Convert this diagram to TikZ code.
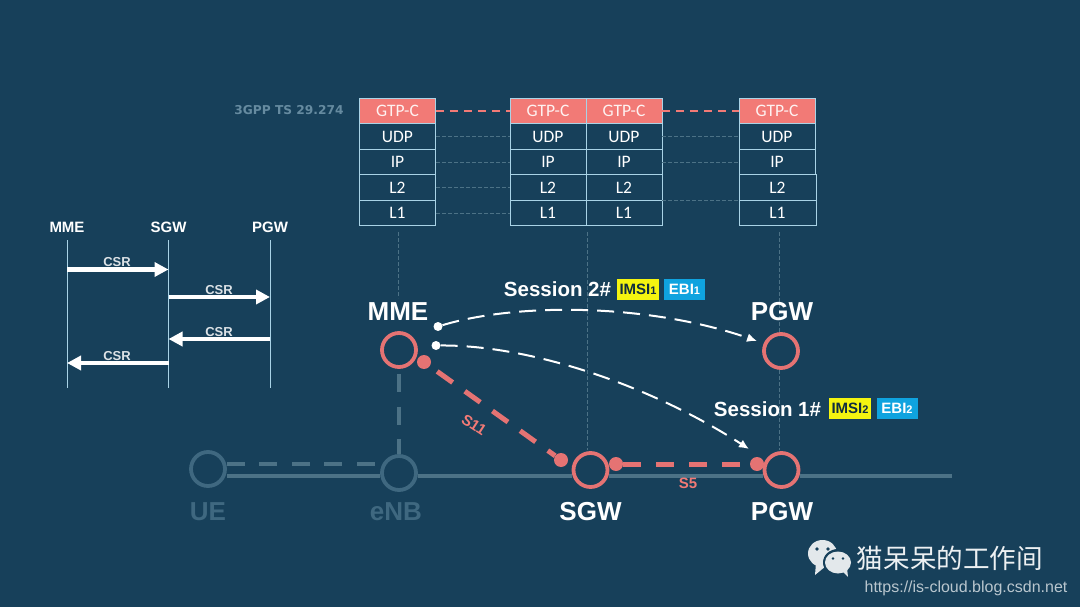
\documentclass[tikz,border=0pt]{standalone}
\usepackage{fontspec}
\usepackage{xcolor}
\usepackage{tikz}
\usetikzlibrary{arrows.meta,positioning}
\setmainfont{Liberation Sans}
\newfontfamily\stackfont{Carlito}
\newfontfamily\specfont{DejaVu Sans}
\newfontfamily\cjkfont{Noto Sans CJK SC}
\definecolor{bgblue}{HTML}{17405A}
\definecolor{salmon}{HTML}{F27A76}
\definecolor{ringred}{HTML}{E57373}
\definecolor{faded}{HTML}{4C7286}
\definecolor{dimtext}{HTML}{3F6880}
\definecolor{spectext}{HTML}{668BA0}
\definecolor{frameblue}{HTML}{A9D3E6}
\definecolor{tagyellow}{HTML}{F4F410}
\definecolor{tagblue}{HTML}{0FA3DF}

\begin{document}
\begin{tikzpicture}[x=1pt,y=-1pt,>=Latex]
  \tikzstyle{layer}=[rectangle,draw=frameblue,line width=0.8pt,minimum width=76pt,minimum height=25.5pt,inner sep=0pt,text=white,font=\stackfont\fontsize{17.5}{17.5}\selectfont]
  \tikzstyle{gtp}=[layer,fill=salmon,text=white!90!salmon]
  \tikzstyle{link}=[faded,line width=0.7pt,dash pattern=on 4pt off 2pt]
  \tikzstyle{stem}=[faded,line width=0.5pt,dash pattern=on 4pt off 2pt]
  \tikzstyle{peer}=[salmon,line width=2.6pt,dash pattern=on 8pt off 6pt]
  \tikzstyle{seqname}=[text=white,font=\bfseries\fontsize{15}{15}\selectfont]
  \tikzstyle{life}=[draw=frameblue,line width=0.7pt]
  \tikzstyle{msg}=[white,line width=4.5pt,-{Triangle[length=14pt,width=14pt]}]
  \tikzstyle{msgname}=[text=white!85!bgblue,font=\bfseries\fontsize{13}{13}\selectfont]
  \tikzstyle{ring}=[circle,draw=ringred,line width=3.8pt,minimum size=34pt,inner sep=0pt]
  \tikzstyle{dimring}=[ring,draw=dimtext]
  \tikzstyle{bigname}=[text=white,font=\bfseries\fontsize{26}{26}\selectfont]
  \tikzstyle{dimname}=[bigname,text=dimtext]
  \tikzstyle{dot}=[circle,fill=ringred,minimum size=14pt,inner sep=0pt]
  \tikzstyle{wdot}=[circle,fill=white,minimum size=9pt,inner sep=0pt]
  \tikzstyle{session}=[white,line width=2pt,dash pattern=on 17pt off 9pt,-{Latex[length=10pt,width=9pt]}]
  \tikzstyle{sessname}=[text=white,font=\bfseries\fontsize{20.5}{20.5}\selectfont]
  \tikzstyle{tag}=[minimum width=42pt,minimum height=21pt,inner sep=0pt,font=\bfseries\fontsize{15}{15}\selectfont]
  \tikzstyle{ifname}=[text=salmon,font=\bfseries\fontsize{15}{15}\selectfont]
  \tikzstyle{railline}=[faded,line width=4pt]
  \tikzstyle{dimdash}=[faded,line width=4.5pt,dash pattern=on 18pt off 14.5pt]
  \tikzstyle{reddash}=[ringred,line width=5pt]
  \useasboundingbox[fill=bgblue] (0,0) rectangle (1080,607);

  % protocol stacks
  \node[text=spectext,font=\specfont\bfseries\fontsize{12.2}{13}\selectfont] (spec) at (289,110) {3GPP TS 29.274};
  \node[gtp] (a1) at (397.5,111) {GTP-C};
  \node[layer] (a2) at (397.5,136.5) {UDP};
  \node[layer] (a3) at (397.5,162) {IP};
  \node[layer] (a4) at (397.5,187.5) {L2};
  \node[layer] (a5) at (397.5,213) {L1};
  \node[gtp] (b1) at (548,111) {GTP-C};
  \node[layer] (b2) at (548,136.5) {UDP};
  \node[layer] (b3) at (548,162) {IP};
  \node[layer] (b4) at (548,187.5) {L2};
  \node[layer] (b5) at (548,213) {L1};
  \node[gtp] (c1) at (624,111) {GTP-C};
  \node[layer] (c2) at (624,136.5) {UDP};
  \node[layer] (c3) at (624,162) {IP};
  \node[layer] (c4) at (624,187.5) {L2};
  \node[layer] (c5) at (624,213) {L1};
  \node[gtp] (d1) at (777,111) {GTP-C};
  \node[layer] (d2) at (777,136.5) {UDP};
  \node[layer] (d3) at (777,162) {IP};
  \node[layer,minimum width=77pt] (d4) at (777.5,187.5) {L2};
  \node[layer,minimum width=77pt] (d5) at (777.5,213) {L1};
  \draw[peer] (a1) -- (b1);
  \draw[peer] (c1) -- (d1);
  \draw[link] (a2) -- (b2);
  \draw[link] (a3) -- (b3);
  \draw[link] (a4) -- (b4);
  \draw[link] (a5) -- (b5);
  \draw[link] (c2) -- (d2);
  \draw[link] (c3) -- (d3);
  \draw[link] (c4.south east) -- (d4.south west);

  % call flow
  \node[seqname] (mmeq) at (67,227.5) {MME};
  \node[seqname] (sgwq) at (168.5,227.5) {SGW};
  \node[seqname] (pgwq) at (270,227.5) {PGW};
  \coordinate (mmetop) at (67,240);
  \coordinate (sgwtop) at (168.5,240);
  \coordinate (pgwtop) at (270,240);
  \coordinate (mmeend) at (67,388);
  \coordinate (sgwend) at (168.5,388);
  \coordinate (pgwend) at (270,388);
  \draw[life] (mmetop) -- (mmeend);
  \draw[life] (sgwtop) -- (sgwend);
  \draw[life] (pgwtop) -- (pgwend);
  \coordinate (m1) at (67,269.5);
  \coordinate (s1) at (168.5,269.5);
  \coordinate (s2) at (168.5,297);
  \coordinate (p2) at (270,297);
  \coordinate (p3) at (270,339);
  \coordinate (s3) at (168.5,339);
  \coordinate (s4) at (168.5,363);
  \coordinate (m4) at (67,363);
  \draw[msg] (m1) -- (s1);
  \draw[msg] (s2) -- (p2);
  \draw[msg] (p3) -- (s3);
  \draw[msg] (s4) -- (m4);
  \node[msgname] (csra) at (117,262) {CSR};
  \node[msgname] (csrb) at (219,290) {CSR};
  \node[msgname] (csrc) at (219,332.5) {CSR};
  \node[msgname] (csrd) at (117,356) {CSR};

  % network
  \coordinate (astem) at (398,232);
  \coordinate (afoot) at (398,298);
  \coordinate (bstem) at (587,232);
  \coordinate (bfoot) at (587,450);
  \coordinate (dstem) at (779,232);
  \coordinate (dfoot) at (779,450);
  \draw[stem] (astem) -- (afoot);
  \draw[stem] (bstem) -- (bfoot);
  \draw[stem] (dstem) -- (dfoot);

  \node[ring,fill=bgblue] (mme) at (399,350) {};
  \node[ring,fill=bgblue] (pgwa) at (781,351) {};
  \node[ring] (sgw) at (590.5,470) {};
  \node[ring] (pgwb) at (781.5,470) {};
  \node[dimring] (ue) at (208,469) {};
  \node[dimring] (enb) at (399,473) {};
  \coordinate (railend) at (952,476);
  \coordinate (uerail) at (ue.east |- railend);
  \coordinate (enbrail) at (enb.west |- railend);
  \coordinate (enbrailb) at (enb.east |- railend);
  \coordinate (sgwrail) at (sgw.west |- railend);
  \coordinate (sgwrailb) at (sgw.east |- railend);
  \coordinate (pgwrail) at (pgwb.west |- railend);
  \coordinate (pgwrailb) at (pgwb.east |- railend);
  \draw[railline] (uerail) -- (enbrail);
  \draw[railline] (enbrailb) -- (sgwrail);
  \draw[railline] (sgwrailb) -- (pgwrail);
  \draw[railline] (pgwrailb) -- (railend);
  \coordinate (ueend) at (ue.east |- 0,464);
  \coordinate (enbend) at (enb.west |- 0,464);
  \draw[dimdash] (ueend) -- (enbend);
  \coordinate (mmefoot) at (399,374);
  \draw[dimdash] (mmefoot) -- (enb.north);

  \node[bigname] (mmename) at (398,312) {MME};
  \node[bigname] (pgwaname) at (782,312) {PGW};
  \node[bigname] (sgwname) at (590.5,512) {SGW};
  \node[bigname] (pgwbname) at (782,512) {PGW};
  \node[dimname] (uename) at (208,512) {UE};
  \node[dimname] (enbname) at (396,512) {eNB};

  \node[dot] (mmedot) at (424,362) {};
  \node[dot] (sgwdota) at (561,460) {};
  \node[dot] (sgwdotb) at (616,464) {};
  \node[dot] (pgwdot) at (757,464) {};
  \draw[reddash,dash pattern=on 19pt off 15pt,dash phase=25pt] (mmedot) -- (sgwdota);
  \draw[reddash,dash pattern=on 18pt off 15pt] (sgwdotb) -- (pgwdot);
  \node[ifname,rotate=-33] (sxi) at (474,425) {S11};
  \node[ifname] (sfive) at (688,483) {S5};

  % sessions
  \node[wdot] (sesa) at (438,326.5) {};
  \node[wdot] (sesb) at (436,345.5) {};
  \coordinate (sesaend) at (757,341);
  \coordinate (sesbend) at (749,449);
  \draw[session] (sesa) .. controls (520,302) and (650,304) .. (sesaend);
  \draw[session] (sesb) .. controls (530,345) and (650,385) .. (sesbend);

  \node[sessname] (sesaname) at (557.5,289.5) {Session 2\#};
  \node[tag,fill=tagyellow,text=bgblue!70!black] (imsia) at (638,289.5) {IMSI{\fontsize{11}{11}\selectfont 1}};
  \node[tag,fill=tagblue,text=white,minimum width=41pt] (ebia) at (684.5,289.5) {EBI{\fontsize{11}{11}\selectfont 1}};
  \node[sessname] (sesbname) at (767.5,409) {Session 1\#};
  \node[tag,fill=tagyellow,text=bgblue!70!black] (imsib) at (850,408.5) {IMSI{\fontsize{11}{11}\selectfont 2}};
  \node[tag,fill=tagblue,text=white,minimum width=41pt] (ebib) at (897,408.5) {EBI{\fontsize{11}{11}\selectfont 2}};

  % watermark
  \fill[white!88!bgblue] (822.5,553.5) ellipse (14.5pt and 13.5pt);
  \fill[white!88!bgblue] (816,563) -- (815,575) -- (826,566) -- cycle;
  \fill[bgblue] (838,562.5) ellipse (15pt and 13.5pt);
  \fill[white!88!bgblue] (838,562.5) ellipse (13pt and 11pt);
  \fill[white!88!bgblue] (842,571) -- (848,577) -- (847,568) -- cycle;
  \fill[bgblue] (817,549) circle (1.8pt);
  \fill[bgblue] (828,549) circle (1.8pt);
  \fill[bgblue] (833,558.5) circle (1.4pt);
  \fill[bgblue] (843,558.5) circle (1.4pt);
  \node[text=white!92!bgblue,font=\cjkfont\fontsize{26.6}{27}\selectfont] (mark) at (950,558) {猫呆呆的工作间};
  \node[text=white!70!bgblue,font=\fontsize{16}{16}\selectfont] (url) at (966,588) {https://is-cloud.blog.csdn.net};
\end{tikzpicture}
\end{document}
